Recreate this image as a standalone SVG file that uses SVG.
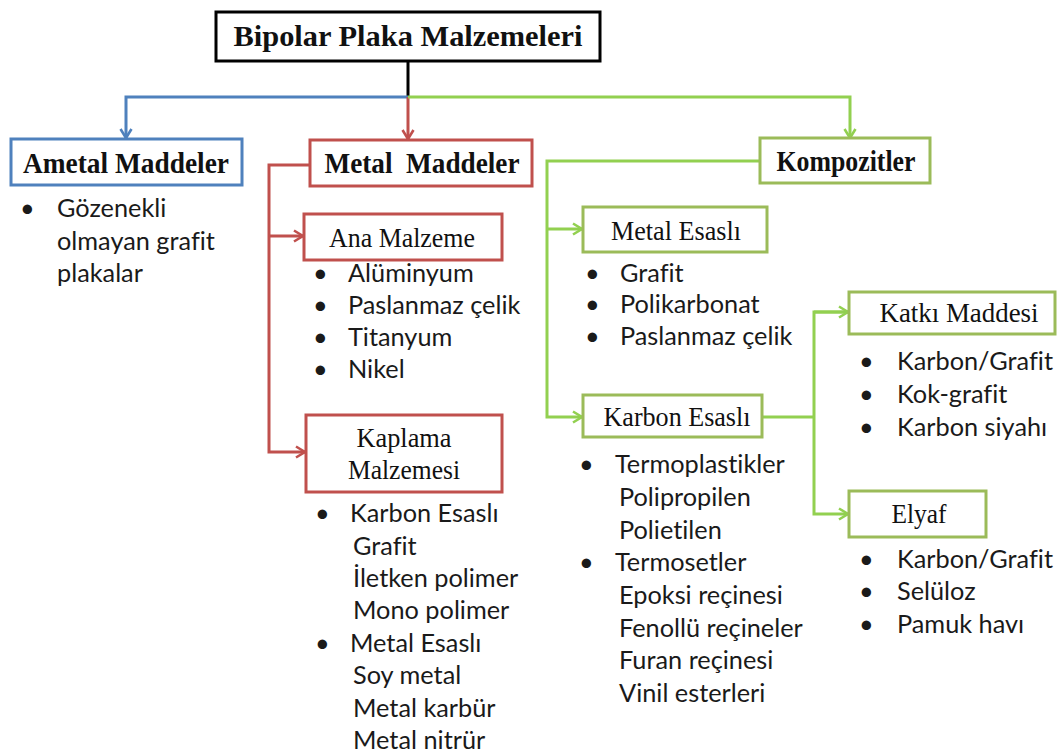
<svg xmlns="http://www.w3.org/2000/svg" width="1059" height="753" viewBox="0 0 1059 753">
  <style>
    .bg { fill: #ffffff; }
    .box { fill: #ffffff; stroke-width: 3; }
    .k { stroke: #000000; }
    .b { stroke: #4f81bd; }
    .r { stroke: #c0504d; }
    .g { stroke: #9bbb59; }
    .title { font-family: "Liberation Serif", "Times New Roman", serif; font-weight: bold; fill: #111111; text-anchor: middle; }
    .lbl { font-family: "Liberation Serif", "Times New Roman", serif; font-size: 28px; fill: #111111; text-anchor: middle; }
    .item { font-family: Lato, "Open Sans", sans-serif; font-size: 25.3px; fill: #1a1a1a; font-variant-ligatures: none; font-feature-settings: "liga" 0; }
    .wire { fill: none; stroke-width: 3; stroke-linejoin: miter; }
    .wk { stroke: #000000; }
    .wb { stroke: #4f81bd; }
    .wr { stroke: #c0504d; }
    .wg { stroke: #92d050; }
  </style>
  <defs>
    <marker id="arrB" viewBox="0 0 12 14" refX="10.5" refY="7" markerWidth="12" markerHeight="14" markerUnits="userSpaceOnUse" orient="auto">
      <path d="M1.5,1.5 L10.5,7 L1.5,12.5" fill="none" stroke="#4f81bd" stroke-width="2.6"/>
    </marker>
    <marker id="arrR" viewBox="0 0 12 14" refX="10.5" refY="7" markerWidth="12" markerHeight="14" markerUnits="userSpaceOnUse" orient="auto">
      <path d="M1.5,1.5 L10.5,7 L1.5,12.5" fill="none" stroke="#c0504d" stroke-width="2.6"/>
    </marker>
    <marker id="arrG" viewBox="0 0 12 14" refX="10.5" refY="7" markerWidth="12" markerHeight="14" markerUnits="userSpaceOnUse" orient="auto">
      <path d="M1.5,1.5 L10.5,7 L1.5,12.5" fill="none" stroke="#92d050" stroke-width="2.6"/>
    </marker>
  </defs>

  <rect class="bg" x="0" y="0" width="1059" height="753"/>

  <!-- connectors -->
  <g id="connectors">
    <path class="wire wk" d="M408,61 V97"/>
    <path class="wire wb" d="M408,97 H126 V138" marker-end="url(#arrB)"/>
    <path class="wire wr" d="M408,97 V139" marker-end="url(#arrR)"/>
    <path class="wire wg" d="M408,97 H850 V138" marker-end="url(#arrG)"/>

    <path class="wire wr" d="M309,165 H269 V452 H305" marker-end="url(#arrR)"/>
    <path class="wire wr" d="M269,236 H303" marker-end="url(#arrR)"/>

    <path class="wire wg" d="M760,161 H547 V417 H582" marker-end="url(#arrG)"/>
    <path class="wire wg" d="M547,229 H582" marker-end="url(#arrG)"/>

    <path class="wire wg" d="M762,417 H814"/>
    <path class="wire wg" d="M849,312 H814 V514 H848" marker-end="url(#arrG)"/>
    <path class="wire wg" d="M814,312 H848" marker-end="url(#arrG)"/>
  </g>

  <!-- root -->
  <g id="root">
    <rect class="box k" x="216" y="12" width="384" height="49"/>
    <text class="title" x="408" y="46" font-size="30" textLength="349" lengthAdjust="spacingAndGlyphs">Bipolar Plaka Malzemeleri</text>
  </g>

  <!-- non-metal materials -->
  <g id="ametal">
    <rect class="box b" x="11" y="139" width="231" height="46"/>
    <text class="title" x="126" y="173" font-size="29.5" textLength="206" lengthAdjust="spacingAndGlyphs">Ametal Maddeler</text>
    <text class="item" x="20" y="217">•</text>
    <text class="item" x="57" y="217">Gözenekli</text>
    <text class="item" x="57" y="250">olmayan grafit</text>
    <text class="item" x="57" y="282">plakalar</text>
  </g>

  <!-- metal materials -->
  <g id="metal">
    <rect class="box r" x="310" y="140" width="222" height="46"/>
    <text class="title" x="422" y="173" font-size="29.5" textLength="195" lengthAdjust="spacingAndGlyphs" xml:space="preserve">Metal  Maddeler</text>
  </g>

  <g id="ana-malzeme">
    <rect class="box r" x="304" y="214" width="198" height="46"/>
    <text class="lbl" x="402" y="247" textLength="146" lengthAdjust="spacingAndGlyphs">Ana Malzeme</text>
    <text class="item" x="313" y="282">•</text>
    <text class="item" x="348" y="282">Alüminyum</text>
    <text class="item" x="313" y="314">•</text>
    <text class="item" x="348" y="314">Paslanmaz çelik</text>
    <text class="item" x="313" y="346">•</text>
    <text class="item" x="348" y="346">Titanyum</text>
    <text class="item" x="313" y="378">•</text>
    <text class="item" x="348" y="378">Nikel</text>
  </g>

  <g id="kaplama">
    <rect class="box r" x="306" y="415" width="196" height="77"/>
    <text class="lbl" x="404" y="447" textLength="95" lengthAdjust="spacingAndGlyphs">Kaplama</text>
    <text class="lbl" x="404" y="479" textLength="112" lengthAdjust="spacingAndGlyphs">Malzemesi</text>
    <text class="item" x="315" y="522">•</text>
    <text class="item" x="350" y="522">Karbon Esaslı</text>
    <text class="item" x="353" y="555">Grafit</text>
    <text class="item" x="353" y="587">İletken polimer</text>
    <text class="item" x="353" y="619">Mono polimer</text>
    <text class="item" x="315" y="652">•</text>
    <text class="item" x="350" y="652">Metal Esaslı</text>
    <text class="item" x="353" y="684">Soy metal</text>
    <text class="item" x="353" y="717">Metal karbür</text>
    <text class="item" x="353" y="749">Metal nitrür</text>
  </g>

  <!-- composites -->
  <g id="kompozitler">
    <rect class="box g" x="760" y="138" width="170" height="45"/>
    <text class="title" x="846" y="171" font-size="29.5" textLength="139" lengthAdjust="spacingAndGlyphs">Kompozitler</text>
  </g>

  <g id="metal-esasli">
    <rect class="box g" x="583" y="207" width="184" height="45"/>
    <text class="lbl" x="676" y="240" textLength="130" lengthAdjust="spacingAndGlyphs">Metal Esaslı</text>
    <text class="item" x="585" y="282">•</text>
    <text class="item" x="620" y="282">Grafit</text>
    <text class="item" x="585" y="313">•</text>
    <text class="item" x="620" y="313">Polikarbonat</text>
    <text class="item" x="585" y="345">•</text>
    <text class="item" x="620" y="345">Paslanmaz çelik</text>
  </g>

  <g id="karbon-esasli">
    <rect class="box g" x="583" y="395" width="179" height="42"/>
    <text class="lbl" x="677" y="426" textLength="147" lengthAdjust="spacingAndGlyphs">Karbon Esaslı</text>
    <text class="item" x="579" y="473">•</text>
    <text class="item" x="615" y="473">Termoplastikler</text>
    <text class="item" x="619" y="506">Polipropilen</text>
    <text class="item" x="619" y="539">Polietilen</text>
    <text class="item" x="579" y="571">•</text>
    <text class="item" x="615" y="571">Termosetler</text>
    <text class="item" x="619" y="604">Epoksi reçinesi</text>
    <text class="item" x="619" y="637">Fenollü reçineler</text>
    <text class="item" x="619" y="669">Furan reçinesi</text>
    <text class="item" x="619" y="702">Vinil esterleri</text>
  </g>

  <g id="katki-maddesi">
    <rect class="box g" x="849" y="292" width="206" height="42"/>
    <text class="lbl" x="959" y="322" textLength="159" lengthAdjust="spacingAndGlyphs">Katkı Maddesi</text>
    <text class="item" x="859" y="370">•</text>
    <text class="item" x="897" y="370">Karbon/Grafit</text>
    <text class="item" x="859" y="403">•</text>
    <text class="item" x="897" y="403">Kok-grafit</text>
    <text class="item" x="859" y="436">•</text>
    <text class="item" x="897" y="436">Karbon siyahı</text>
  </g>

  <g id="elyaf">
    <rect class="box g" x="849" y="491" width="137" height="46"/>
    <text class="lbl" x="919" y="523" textLength="55" lengthAdjust="spacingAndGlyphs">Elyaf</text>
    <text class="item" x="859" y="568">•</text>
    <text class="item" x="897" y="568">Karbon/Grafit</text>
    <text class="item" x="859" y="600">•</text>
    <text class="item" x="897" y="600">Selüloz</text>
    <text class="item" x="859" y="633">•</text>
    <text class="item" x="897" y="633">Pamuk havı</text>
  </g>
</svg>
